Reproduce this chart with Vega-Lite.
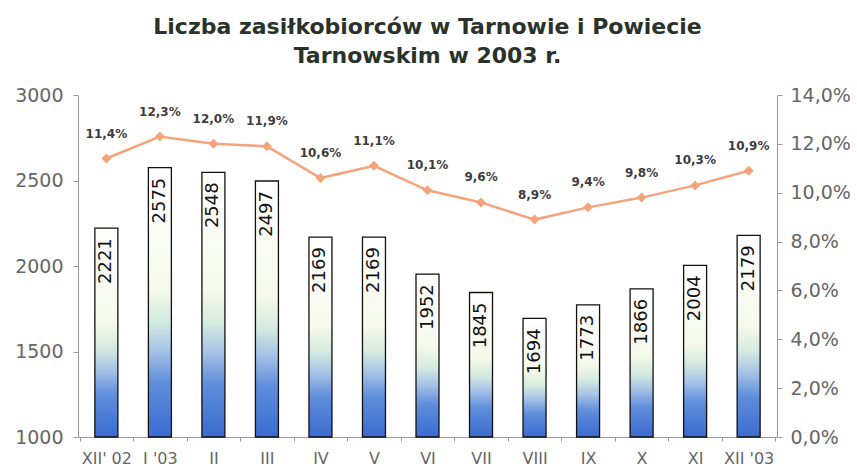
{
  "$schema": "https://vega.github.io/schema/vega-lite/v6.json",
  "width": 699,
  "height": 342,
  "autosize": {"type": "none"},
  "padding": {"left": 78, "top": 95, "right": 80, "bottom": 37},
  "background": "white",
  "title": {
    "text": ["Liczba zasiłkobiorców w Tarnowie i Powiecie", "Tarnowskim w 2003 r."],
    "font": "DejaVu Sans",
    "fontSize": 22,
    "fontWeight": "bold",
    "color": "#2a332b",
    "lineHeight": 29,
    "offset": 18,
    "anchor": "middle"
  },
  "data": {
    "values": [
      {"month": "XII' 02", "count": 2221, "rate": 0.114},
      {"month": "I '03", "count": 2575, "rate": 0.123},
      {"month": "II", "count": 2548, "rate": 0.120},
      {"month": "III", "count": 2497, "rate": 0.119},
      {"month": "IV", "count": 2169, "rate": 0.106},
      {"month": "V", "count": 2169, "rate": 0.111},
      {"month": "VI", "count": 1952, "rate": 0.101},
      {"month": "VII", "count": 1845, "rate": 0.096},
      {"month": "VIII", "count": 1694, "rate": 0.089},
      {"month": "IX", "count": 1773, "rate": 0.094},
      {"month": "X", "count": 1866, "rate": 0.098},
      {"month": "XI", "count": 2004, "rate": 0.103},
      {"month": "XII '03", "count": 2179, "rate": 0.109}
    ]
  },
  "encoding": {
    "x": {
      "field": "month",
      "type": "nominal",
      "sort": null,
      "scale": {"paddingInner": 0, "paddingOuter": 0.03},
      "axis": {
        "title": null,
        "labelAngle": 0,
        "labelFont": "DejaVu Sans",
        "labelFontSize": 16,
        "labelColor": "#666666",
        "labelPadding": 9,
        "domainColor": "#9a9a9a",
        "tickColor": "#9a9a9a",
        "tickSize": 4,
        "tickBand": "extent",
        "grid": false
      }
    }
  },
  "layer": [
    {
      "encoding": {
        "y": {
          "field": "count",
          "type": "quantitative",
          "scale": {"domain": [1000, 3000], "zero": false, "nice": false},
          "axis": {
            "title": null,
            "orient": "left",
            "values": [1000, 1500, 2000, 2500, 3000],
            "format": "d",
            "labelFont": "DejaVu Sans",
            "labelFontSize": 19,
            "labelColor": "#666666",
            "labelPadding": 10,
            "domainColor": "#9a9a9a",
            "tickColor": "#9a9a9a",
            "tickSize": 5,
            "grid": false
          }
        }
      },
      "layer": [
        {
          "mark": {
            "type": "bar",
            "width": 23,
            "stroke": "#111111",
            "strokeWidth": 1.3,
            "fill": {
              "gradient": "linear",
              "x1": 0, "y1": 0, "x2": 0, "y2": 1,
              "stops": [
                {"offset": 0, "color": "#ffffff"},
                {"offset": 0.45, "color": "#f5f9ea"},
                {"offset": 0.57, "color": "#d5ebdf"},
                {"offset": 0.68, "color": "#a6c2e6"},
                {"offset": 0.8, "color": "#5f8edb"},
                {"offset": 1, "color": "#3b6bd0"}
              ]
            }
          },
          "encoding": {
            "y2": {"datum": 1000}
          }
        },
        {
          "mark": {
            "type": "text",
            "angle": 270,
            "align": "right",
            "baseline": "middle",
            "dx": -10,
            "font": "DejaVu Sans",
            "fontSize": 18,
            "fill": "#111111"
          },
          "encoding": {
            "text": {"field": "count", "type": "quantitative", "format": "d"}
          }
        }
      ]
    },
    {
      "encoding": {
        "y": {
          "field": "rate",
          "type": "quantitative",
          "scale": {"domain": [0, 0.14], "nice": false},
          "axis": {
            "title": null,
            "orient": "right",
            "values": [0, 0.02, 0.04, 0.06, 0.08, 0.1, 0.12, 0.14],
            "format": ".1%",
            "labelFont": "DejaVu Sans",
            "labelFontSize": 19,
            "labelColor": "#666666",
            "labelPadding": 8,
            "domainColor": "#9a9a9a",
            "tickColor": "#9a9a9a",
            "tickSize": 5,
            "grid": false
          }
        }
      },
      "layer": [
        {
          "mark": {"type": "line", "color": "#f4a47c", "strokeWidth": 2.5}
        },
        {
          "mark": {"type": "point", "shape": "diamond", "filled": true, "size": 100, "color": "#f4a47c", "opacity": 1}
        },
        {
          "mark": {
            "type": "text",
            "dy": -25,
            "font": "DejaVu Sans",
            "fontSize": 12,
            "fontWeight": "bold",
            "fill": "#3d3d3d"
          },
          "encoding": {
            "text": {"field": "rate", "type": "quantitative", "format": ".1%"}
          }
        }
      ]
    }
  ],
  "resolve": {"scale": {"y": "independent"}},
  "config": {
    "view": {"stroke": null},
    "locale": {
      "number": {"decimal": ",", "thousands": " ", "grouping": [3], "currency": ["", ""]}
    }
  }
}
